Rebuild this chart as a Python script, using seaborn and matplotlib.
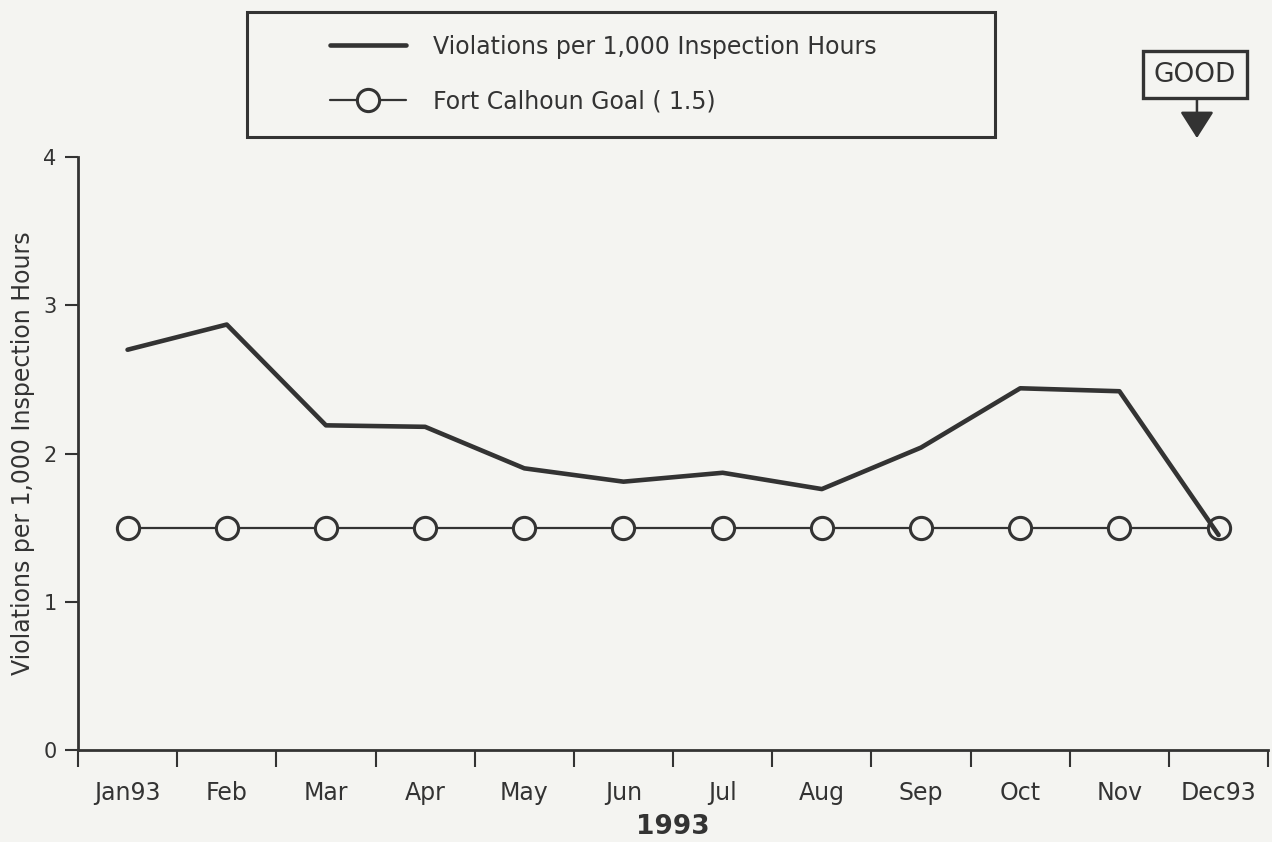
import matplotlib
matplotlib.use("Agg")
import matplotlib.pyplot as plt
import matplotlib.patches as mpatches
from matplotlib.lines import Line2D
import pandas as pd
import seaborn as sns

# Data
months = ["Jan93", "Feb", "Mar", "Apr", "May", "Jun", "Jul", "Aug", "Sep", "Oct", "Nov", "Dec93"]
violations = [2.70, 2.87, 2.19, 2.18, 1.90, 1.81, 1.87, 1.76, 2.04, 2.44, 2.42, 1.45]
goal = [1.5] * 12

sns.set_theme(style="ticks")
plt.rcParams["font.family"] = ["DejaVu Sans"]

ink = "#333333"
bg = "#f4f4f1"

df = pd.DataFrame({"pos": range(len(months)), "month": months,
                   "violations": violations, "goal": goal})

fig = plt.figure(figsize=(12.72, 8.42), dpi=100, facecolor=bg)
ax = fig.add_axes([0.0613, 0.1093, 0.9357, 0.7042])
ax.set_facecolor(bg)

sns.lineplot(data=df, x="pos", y="goal", ax=ax, color=ink, lw=1.6,
             marker="o", markersize=16, markerfacecolor=bg,
             markeredgecolor=ink, markeredgewidth=2.2)
sns.lineplot(data=df, x="pos", y="violations", ax=ax, color=ink, lw=3.3)

ax.set_xlim(-0.5, len(months) - 0.5)
ax.set_ylim(0, 4)
ax.set_yticks([0, 1, 2, 3, 4])
ax.tick_params(axis="y", labelsize=15, colors=ink, length=9.5, width=1.5, pad=6)

# boundary ticks between months, labels centred on months
ax.set_xticks([i - 0.5 for i in range(len(months) + 1)])
ax.set_xticklabels([])
ax.set_xticks(range(len(months)), minor=True)
ax.set_xticklabels(months, minor=True, fontsize=17, color=ink)
ax.tick_params(axis="x", which="major", length=12, width=1.5, colors=ink)
ax.tick_params(axis="x", which="minor", length=0, pad=22)

sns.despine(ax=ax)
for s in ("left", "bottom"):
    ax.spines[s].set_color(ink)
    ax.spines[s].set_linewidth(2)

ax.set_xlabel("1993", fontsize=19, fontweight="bold", color=ink, labelpad=7)
ax.set_ylabel("Violations per 1,000 Inspection Hours", fontsize=17, color=ink, labelpad=6)

# legend box
handles = [
    Line2D([], [], color=ink, lw=3.3),
    Line2D([], [], color=ink, lw=1.6, marker="o", markersize=16,
           markerfacecolor=bg, markeredgecolor=ink, markeredgewidth=2.2),
]
labels = ["Violations per 1,000 Inspection Hours", "Fort Calhoun Goal ( 1.5)"]
fig.legend(handles, labels, loc="center left", bbox_to_anchor=(0.2594, 0.912),
           frameon=False, fontsize=17, handlelength=3.2, handletextpad=1.15,
           labelspacing=1.3, borderpad=0, borderaxespad=0, labelcolor=ink)
fig.patches.append(mpatches.Rectangle((0.194, 0.837), 0.588, 0.149,
                                      transform=fig.transFigure, fill=False,
                                      ec=ink, lw=2.2))

# GOOD indicator
fig.text(0.9395, 0.911, "GOOD", ha="center", va="center", fontsize=19, color=ink,
         bbox=dict(boxstyle="square,pad=0.4", fc=bg, ec=ink, lw=2.4))
ax.annotate("", xy=(0.941, 0.836), xycoords="figure fraction",
            xytext=(0.941, 0.885), textcoords="figure fraction",
            arrowprops=dict(arrowstyle="-|>,head_length=1.1,head_width=0.7",
                            mutation_scale=15, color=ink,
                            lw=1.8, shrinkA=0, shrinkB=0))

fig.savefig("out.png", dpi=100, facecolor=bg)
